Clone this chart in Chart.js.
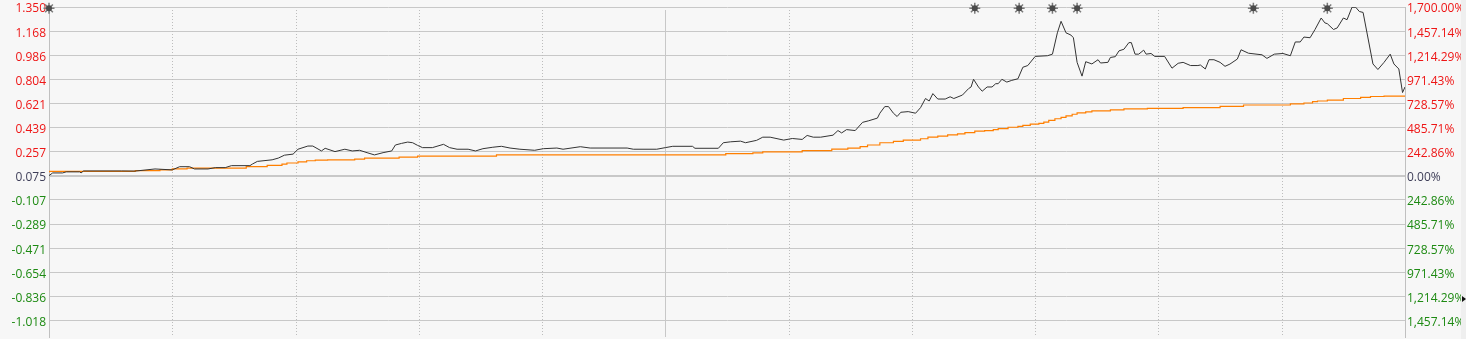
<!DOCTYPE html>
<html>
<head>
<meta charset="utf-8">
<script src="https://cdn.jsdelivr.net/npm/chart.js@4.4.1/dist/chart.umd.min.js"></script>
<style>
  html, body { margin: 0; padding: 0; background: #efefef; }
  #wrap { position: relative; width: 1461px; height: 339px; overflow: hidden; background: #f7f7f7; }
  #grafico { display: block; }
  #marca { position: absolute; left: 1462px; top: 296px; width: 0; height: 0;
    border-top: 3px solid transparent; border-bottom: 3px solid transparent; border-left: 4px solid #111; }
</style>
</head>
<body>
<!-- canvas is 5px taller than the view: chart.js keeps a small gap under the plot area -->
<div id="wrap"><canvas id="grafico" width="1461" height="344"></canvas></div>
<div id="marca"></div>
<script>
// Net value line (x = trading day index, y = value)
const navX = [0, 3, 11, 14, 25, 26, 28, 59, 70, 86,
  100, 106, 114, 118, 129, 135, 143, 148, 163, 165,
  169, 181, 186, 191, 198, 202, 210, 214, 221, 224,
  232, 240, 246, 252, 258, 264, 271, 278, 281, 286,
  291, 295, 299, 303, 311, 320, 325, 331, 340, 346,
  352, 360, 367, 374, 382, 394, 401, 412, 417, 431,
  439, 469, 474, 493, 500, 506, 522, 524, 543, 547,
  553, 561, 565, 574, 579, 585, 596, 603, 611, 615,
  620, 626, 636, 640, 643, 647, 654, 660, 665, 672,
  674, 678, 681, 685, 688, 691, 697, 703, 707, 711,
  714, 717, 721, 727, 731, 734, 741, 746, 748, 750,
  754, 757, 761, 765, 768, 770, 773, 777, 781, 786,
  790, 794, 800, 810, 814, 818, 821, 825, 829, 831,
  834, 838, 841, 846, 851, 853, 859, 861, 865, 868,
  872, 876, 878, 881, 884, 888, 890, 894, 897, 905,
  911, 916, 920, 926, 932, 934, 938, 941, 945, 950,
  954, 958, 964, 967, 973, 984, 988, 994, 1001, 1007,
  1011, 1015, 1018, 1023, 1027, 1032, 1035, 1037, 1042, 1045,
  1050, 1053, 1057, 1060, 1063, 1066, 1074, 1078, 1083, 1088,
  1091, 1095, 1098, 1100];
const navY = [0.077, 0.097, 0.097, 0.105, 0.105, 0.097, 0.112, 0.112, 0.111, 0.127,
  0.120, 0.144, 0.144, 0.127, 0.127, 0.137, 0.137, 0.152, 0.152, 0.164,
  0.184, 0.196, 0.209, 0.231, 0.239, 0.276, 0.300, 0.300, 0.263, 0.283,
  0.258, 0.276, 0.263, 0.268, 0.250, 0.233, 0.250, 0.263, 0.308, 0.320,
  0.330, 0.325, 0.305, 0.288, 0.288, 0.313, 0.288, 0.276, 0.276, 0.263,
  0.280, 0.291, 0.298, 0.285, 0.276, 0.268, 0.280, 0.285, 0.276, 0.295,
  0.285, 0.285, 0.276, 0.276, 0.288, 0.298, 0.298, 0.283, 0.283, 0.325,
  0.332, 0.337, 0.325, 0.343, 0.367, 0.367, 0.345, 0.357, 0.350, 0.380,
  0.367, 0.367, 0.382, 0.417, 0.399, 0.424, 0.417, 0.479, 0.491, 0.511,
  0.548, 0.598, 0.598, 0.548, 0.523, 0.555, 0.560, 0.548, 0.590, 0.659,
  0.640, 0.696, 0.655, 0.655, 0.672, 0.659, 0.685, 0.734, 0.746, 0.804,
  0.746, 0.714, 0.746, 0.746, 0.771, 0.771, 0.804, 0.783, 0.796, 0.808,
  0.895, 0.908, 0.977, 0.982, 0.994, 1.155, 1.242, 1.155, 1.138, 1.118,
  0.932, 0.828, 0.937, 0.920, 0.952, 0.927, 0.932, 0.969, 0.975, 1.019,
  1.031, 1.081, 1.081, 0.994, 0.994, 1.024, 0.994, 0.999, 0.977, 0.977,
  0.888, 0.925, 0.932, 0.908, 0.908, 0.912, 0.882, 0.952, 0.952, 0.932,
  0.902, 0.919, 0.957, 1.027, 1.001, 0.989, 0.962, 0.994, 0.999, 0.982,
  1.086, 1.086, 1.123, 1.118, 1.180, 1.267, 1.230, 1.224, 1.180, 1.192,
  1.267, 1.254, 1.348, 1.348, 1.316, 1.309, 0.920, 0.878, 0.932, 0.994,
  0.920, 0.882, 0.704, 0.746];

// Cost line, step changes
const costX = [0, 70, 90, 100, 112, 160, 177, 189, 193, 202,
  209, 216, 226, 248, 256, 284, 299, 363, 549, 571,
  579, 611, 635, 648, 658, 664, 674, 685, 693, 707,
  713, 721, 729, 737, 743, 751, 759, 766, 770, 778,
  786, 790, 796, 803, 807, 811, 816, 821, 825, 830,
  834, 841, 846, 861, 872, 891, 920, 950, 969, 1007,
  1018, 1025, 1029, 1037, 1050, 1064, 1072, 1083, 1100];
const costY = [0.101, 0.109, 0.114, 0.120, 0.127, 0.134, 0.144, 0.154, 0.164, 0.172,
  0.181, 0.189, 0.194, 0.196, 0.201, 0.209, 0.216, 0.224, 0.234, 0.243,
  0.248, 0.256, 0.265, 0.276, 0.285, 0.295, 0.308, 0.325, 0.335, 0.345,
  0.355, 0.367, 0.375, 0.384, 0.392, 0.402, 0.412, 0.417, 0.424, 0.432,
  0.442, 0.449, 0.456, 0.466, 0.471, 0.481, 0.494, 0.506, 0.516, 0.528,
  0.540, 0.551, 0.558, 0.566, 0.573, 0.581, 0.585, 0.590, 0.600, 0.610,
  0.618, 0.625, 0.635, 0.640, 0.647, 0.659, 0.667, 0.674, 0.677];

// event markers along the top
const starX = [0, 751, 787, 814, 834, 977, 1037];
const starY = [1.34, 1.34, 1.34, 1.34, 1.34, 1.34, 1.34];

const leftTicks = ['1.350', '1.168', '0.986', '0.804', '0.621', '0.439', '0.257',
  '0.075', '-0.107', '-0.289', '-0.471', '-0.654', '-0.836', '-1.018'];
const rightTicks = ['1,700.00%', '1,457.14%', '1,214.29%', '971.43%', '728.57%', '485.71%', '242.86%',
  '0.00%', '242.86%', '485.71%', '728.57%', '971.43%', '1,214.29%', '1,457.14%'];

const baseValue = 0.075;
const yMin = -1.142;
const yMax = 1.350;

const colorUp = '#ee1515';
const colorDown = '#1d8a12';
const colorBase = '#3e3e58';

function colorLabel(ctx) {
  const v = ctx.tick ? ctx.tick.value : 0;
  if (v > baseValue + 0.0001) return colorUp;
  if (v < baseValue - 0.0001) return colorDown;
  return colorBase;
}

function toPoints(xs, ys) {
  const out = [];
  for (let i = 0; i < xs.length; i++) out.push({ x: xs[i], y: ys[i] });
  return out;
}

// no label padding at the ends, the grid must fill the canvas height
function fitAxis(width) {
  return s => {
    s.width = width;
    s.paddingTop = 0;
    s.paddingBottom = 0;
  };
}

// dotted verticals, solid one in the middle
const verticalGrid = {
  id: 'verticalGrid',
  beforeDatasetsDraw(chart) {
    const { ctx, chartArea, scales } = chart;
    ctx.save();
    ctx.lineWidth = 1;
    for (let v = 100; v < 1100; v += 100) {
      const px = Math.round(scales.x.getPixelForValue(v)) + 0.5;
      ctx.beginPath();
      if (v === 500) {
        ctx.setLineDash([]);
        ctx.strokeStyle = '#c8c8c8';
      } else {
        ctx.setLineDash([1, 2]);
        ctx.strokeStyle = '#bdbdbd';
      }
      ctx.moveTo(px, chartArea.top + 3);
      ctx.lineTo(px, chartArea.bottom);
      ctx.stroke();
    }
    ctx.restore();
  }
};

Chart.defaults.font.family = "'Open Sans', sans-serif";
Chart.defaults.font.size = 12;

const tickValues = leftTicks.map(t => parseFloat(t));

new Chart(document.getElementById('grafico'), {
  type: 'line',
  data: {
    datasets: [
      { type: 'scatter', data: toPoints(starX, starY), pointStyle: 'circle', pointRadius: 3,
        backgroundColor: '#4a4a4a', borderWidth: 0, clip: false },
      { type: 'scatter', data: toPoints(starX, starY), pointStyle: 'star', pointRadius: 5.5,
        borderColor: '#7a7a7a', borderWidth: 1.5, clip: false },
      { data: toPoints(navX, navY), borderColor: '#333333', borderWidth: 1, pointRadius: 0, tension: 0 },
      { data: toPoints(costX, costY), borderColor: '#ff7f00', borderWidth: 1.2, pointRadius: 0, stepped: 'after' }
    ]
  },
  options: {
    responsive: false,
    animation: false,
    devicePixelRatio: 1,
    layout: { padding: { top: 4, left: 0, right: 0, bottom: 0 } },
    plugins: { legend: { display: false }, tooltip: { enabled: false } },
    scales: {
      x: { type: 'linear', min: 0, max: 1100, display: false },
      y: {
        position: 'left', min: yMin, max: yMax,
        afterBuildTicks: s => { s.ticks = tickValues.map(v => ({ value: v })); },
        afterFit: fitAxis(49),
        grid: { color: '#c8c8c8', drawTicks: false,
          lineWidth: ctx => (ctx.tick && ctx.tick.value === baseValue ? 2 : 1) },
        border: { display: true, color: '#c0c0c0' },
        ticks: { padding: 3, autoSkip: false, labelOffset: 2, color: colorLabel,
          callback: (v, i) => leftTicks[i] }
      },
      y2: {
        position: 'right', min: yMin, max: yMax,
        afterBuildTicks: s => { s.ticks = tickValues.map(v => ({ value: v })); },
        afterFit: fitAxis(56),
        grid: { display: false, drawTicks: false },
        border: { display: true, color: '#c0c0c0' },
        ticks: { padding: 2, autoSkip: false, labelOffset: 2, color: colorLabel,
          callback: (v, i) => rightTicks[i] }
      }
    }
  },
  plugins: [verticalGrid]
});
</script>
</body>
</html>
